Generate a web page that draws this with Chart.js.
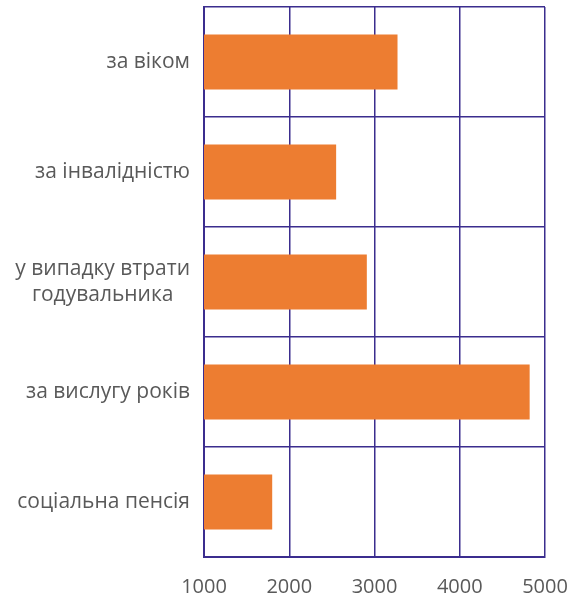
<!DOCTYPE html>
<html>
<head>
<meta charset="utf-8">
<script src="https://cdn.jsdelivr.net/npm/chart.js@4/dist/chart.umd.min.js"></script>
<style>
  html, body { margin: 0; padding: 0; background: #fff; }
  #wrap { width: 582px; height: 597px; }
</style>
</head>
<body>
<div id="wrap"><canvas id="myChart"></canvas></div>
<script>
// categories (top to bottom)
const categories = [
    ['за віком'],
    ['за інвалідністю'],
    ['у випадку втрати', 'годувальника'],
    ['за вислугу років'],
    ['соціальна пенсія']
]
// values
const values = [3270, 2550, 2910, 4820, 1800]
const xTicks = [1000, 2000, 3000, 4000, 5000]

const gridColor = '#3B2D8E'
const textColor = '#595959'
const font = 'Open Sans'

// draw the category labels: block right-aligned, lines centred inside the block
const catLabels = {
    id: 'catLabels',
    afterDraw(chart) {
        const ctx = chart.ctx
        const y = chart.scales.y
        const right = chart.chartArea.left - 14
        const lineH = 26
        ctx.save()
        ctx.font = '21px "' + font + '"'
        ctx.fillStyle = textColor
        ctx.textBaseline = 'middle'
        ctx.textAlign = 'center'
        categories.forEach((lines, i) => {
            const widest = Math.max(...lines.map(l => ctx.measureText(l).width))
            const cx = right - widest / 2
            const cy = y.getPixelForTick(i)
            lines.forEach((l, k) => {
                ctx.fillText(l, cx, cy + (k - (lines.length - 1) / 2) * lineH)
            })
        })
        ctx.restore()
    }
}

var ctx = document.getElementById('myChart').getContext('2d')
var myChart = new Chart(ctx, {
    type: 'bar',
    data: {
        labels: categories,
        datasets: [{
            data: values,
            backgroundColor: '#ED7D31',
            borderWidth: 0,
            barPercentage: 0.5,
            categoryPercentage: 1
        }]
    },
    options: {
        indexAxis: 'y',
        responsive: true,
        maintainAspectRatio: false,
        animation: false,
        layout: { padding: { top: 7, right: 37, left: 0, bottom: 0 } },
        plugins: {
            legend: { display: false },
            tooltip: { enabled: false }
        },
        scales: {
            x: {
                min: 1000,
                max: 5000,
                afterBuildTicks(scale) {
                    scale.ticks = xTicks.map(v => ({ value: v }))
                },
                afterFit(scale) {
                    scale.height = 40
                    scale.paddingLeft = 0
                    scale.paddingRight = 0
                },
                grid: { color: gridColor, lineWidth: 1.5, drawTicks: false },
                border: { color: gridColor, width: 2 },
                ticks: {
                    padding: 18,
                    color: textColor,
                    font: { family: font, size: 20 },
                    callback: (v) => String(v)
                }
            },
            y: {
                afterFit(scale) { scale.width = 204 },
                grid: { color: gridColor, lineWidth: 1.5, drawTicks: false, offset: true },
                border: { color: gridColor, width: 2 },
                ticks: { display: false }
            }
        }
    },
    plugins: [catLabels]
})
</script>
</body>
</html>
